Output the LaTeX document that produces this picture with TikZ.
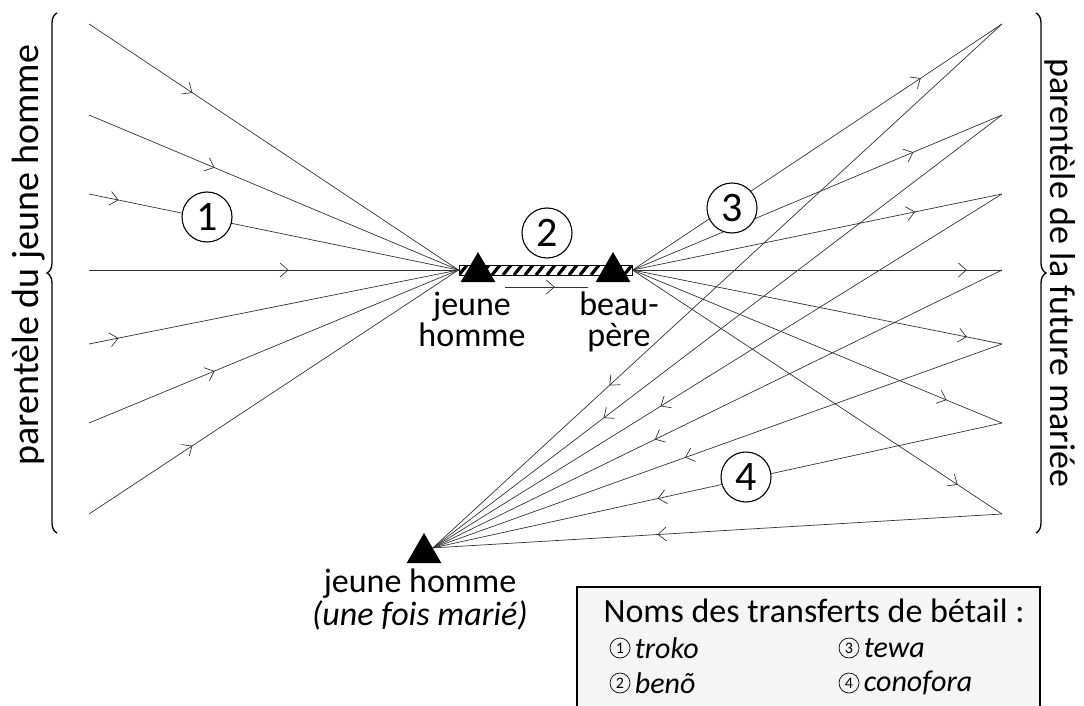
\documentclass[tikz,border=0pt]{standalone}
\usepackage{fontspec}
\setmainfont{Carlito}
\usetikzlibrary{arrows.meta,decorations.markings,decorations.pathreplacing,shapes.geometric,positioning}

\begin{document}
\begin{tikzpicture}[
        x=1pt, y=-1pt,
        link/.style={line width=0.7pt, draw=black!80},
        arr/.style={postaction={decorate}, decoration={markings,
            mark=at position #1 with {\arrow{Straight Barb[length=8pt,width=14pt,line width=0.7pt]}}}},
        person/.style={regular polygon, regular polygon sides=3, fill=black, minimum size=40pt, inner sep=0pt},
        hatchbar/.style={rectangle, draw, line width=1pt, fill=white, minimum width=173pt, minimum height=10pt, inner sep=0pt,
            path picture={\foreach \k in {0,...,16} \draw[line width=3.2pt] ([xshift=\k*11pt]path picture bounding box.south west) -- ++(8pt,10pt);}},
        numcirc/.style={circle, draw, line width=1.1pt, fill=white, minimum size=50pt, inner sep=0pt, font=\fontsize{42}{42}\selectfont},
        smallnum/.style={circle, draw, line width=0.7pt, minimum size=20pt, inner sep=0pt, font=\fontsize{16}{16}\selectfont},
        lbl/.style={align=center, inner sep=0pt, font=\fontsize{34}{31}\selectfont},
        side/.style={font=\fontsize{38}{38}\selectfont},
        famille/.style={decorate, decoration={brace, amplitude=10pt}, line width=1.3pt},
    ]
    \useasboundingbox (0,0) rectangle (1084,706);
    \clip (0,0) rectangle (1084,706);
    \fill[white] (0,0) rectangle (1084,706);

    \node[hatchbar] (bar) at (545.5,270) {};
    \node[person] (j1) at (478,272) {};
    \node[person] (bp) at (613,272) {};
    \node[person] (j2) at (424,553) {};

    \foreach \i/\y in {1/24,2/115,3/194,4/270,5/344,6/423,7/514} {
        \coordinate (l\i) at (89,\y);
        \coordinate (r\i) at (1002,\y);
    }
    \foreach \i/\p in {1/0.28,2/0.34,3/0.08,4/0.54,5/0.08,6/0.34,7/0.28}
        \draw[link, arr=\p] (l\i) -- (bar.west);
    \foreach \i/\p in {1/0.78,2/0.76,3/0.765,4/0.905,5/0.905,6/0.85,7/0.88}
        \draw[link, arr=\p] (bar.east) -- (r\i);
    \foreach \i/\p in {1/0.69,2/0.70,3/0.60,4/0.61,5/0.557,6/0.605,7/0.605}
        \draw[link, arr=\p] (r\i) -- (j2.side 3);

    \coordinate (g1) at (505,287);
    \coordinate (g2) at (588,287);
    \draw[link, arr=0.6] (g1) -- (g2);

    \node[numcirc] (n1) at (207,217) {1};
    \node[numcirc] (n2) at (547,233) {2};
    \node[numcirc] (n3) at (732,208) {3};
    \node[numcirc] (n4) at (746,477) {4};

    \node[lbl] (t1) at (472,319) {jeune\\homme};
    \node[lbl] (t2) at (619,322) {beau-\\père};
    \node[lbl, font=\fontsize{34}{33}\selectfont] (t3) at (420,600) {jeune homme\\\textit{(une fois marié)}};

    \coordinate (bl1) at (57,533);
    \coordinate (bl2) at (57,13);
    \coordinate (br1) at (1036,13);
    \coordinate (br2) at (1036,533);
    \draw[famille] (bl1) -- (bl2);
    \draw[famille] (br1) -- (br2);
    \node[side, rotate=90] (pj) at (29,255) {parentèle du jeune homme};
    \node[side, rotate=-90, font=\fontsize{36}{36}\selectfont] (pf) at (1060,273) {parentèle de la future mariée};

    \draw[line width=1.6pt, fill=black!4] (577,587) rectangle (1040,730);
    \node[anchor=west, font=\fontsize{34}{34}\selectfont] (leg) at (600,611) {Noms des transferts de bétail :};
    \foreach \n/\x/\y/\w in {1/620/648/troko, 2/620/683/benõ, 3/849/648/tewa, 4/849/683/conofora} {
        \node[smallnum] (s\n) at (\x,\y) {\n};
        \node[font=\fontsize{30}{30}\selectfont\itshape, right=1pt of s\n] (w\n) {\w};
    }
\end{tikzpicture}
\end{document}
